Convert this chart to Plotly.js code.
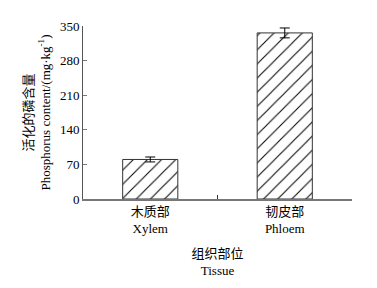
<!DOCTYPE html>
<html><head><meta charset="utf-8">
<script src="https://cdn.plot.ly/plotly-3.0.1.min.js"></script>
<style>html,body{margin:0;padding:0;background:#fff}#c{width:377px;height:288px}</style>
</head><body><div id="c"></div>
<script>
const categories = ["木质部<br>Xylem", "韧皮部<br>Phloem"];
const values = [80, 336];
const errors = [5, 10];
const yTicks = [0, 70, 140, 210, 280, 350];

const F = "'Liberation Serif', 'Times New Roman', 'Noto Sans CJK SC', serif";
const trace = {
  type: 'bar', x: categories, y: values, width: 0.41,
  marker: {color: '#fff', line: {color: '#333', width: 1},
    pattern: {shape: '/', fgcolor: '#000', bgcolor: '#fff', size: 10, solidity: 0.1}},
  error_y: {type: 'data', array: errors, visible: true, color: '#000', thickness: 1, width: 5}
};
const layout = {
  width: 377, height: 288, margin: {l: 83, r: 25, t: 26, b: 89},
  paper_bgcolor: '#fff', plot_bgcolor: '#fff', showlegend: false,
  font: {family: F, size: 13, color: '#000'},
  xaxis: {type: 'category', showline: true, linecolor: '#777', linewidth: 1.5,
    ticks: 'inside', tickson: 'boundaries', ticklen: 4, tickcolor: '#333',
    showgrid: false, zeroline: false, range: [-0.5, 1.5],
    tickfont: {family: F, size: 13},
    title: {text: '组织部位<br>Tissue', font: {family: F, size: 13}, standoff: 14}},
  yaxis: {range: [0, 350], tickvals: yTicks, showline: true, linecolor: '#555', linewidth: 1,
    ticks: 'inside', ticklen: 4, tickcolor: '#777', showgrid: false, zeroline: false,
    tickfont: {family: F, size: 13},
    title: {text: '活化的磷含量<br>Phosphorus content/(mg·kg<sup>-1</sup>)', font: {family: F, size: 13}, standoff: 6}}
};
Plotly.newPlot('c', [trace], layout, {staticPlot: true});
</script></body></html>
